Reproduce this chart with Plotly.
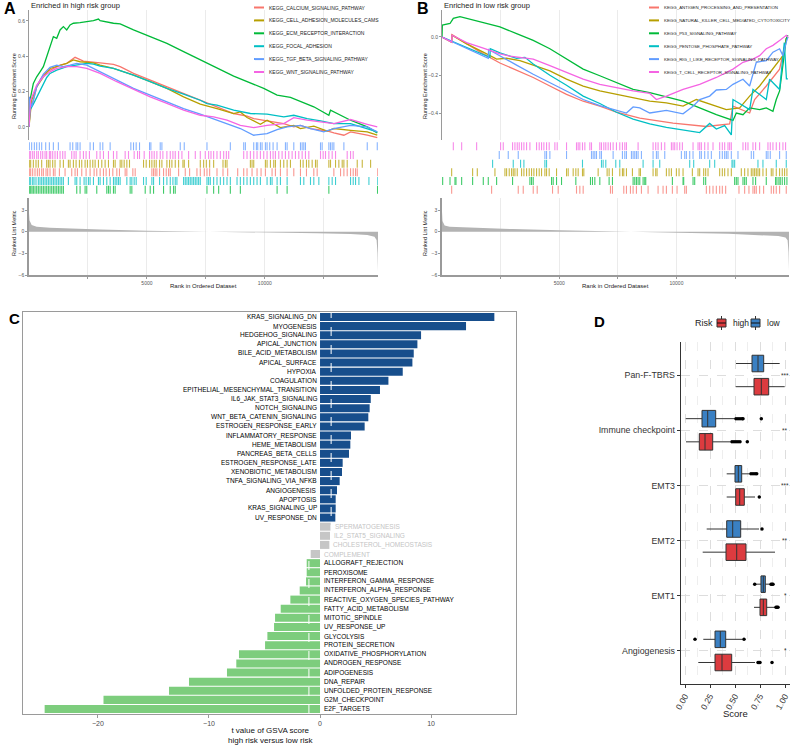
import plotly.graph_objects as go

W, H = 792, 745
FONT = "Arial, 'Liberation Sans', sans-serif"

# ============================ DATA ============================
N_GENES = 14800
metric_rank = [0, 20, 113, 326, 892, 1600, 3016, 5000, 7264, 8680, 10096, 12220, 13636, 14344, 14650, 14740, 14780, 14800]
A_metric = [2.6, 1.6, 0.92, 0.69, 0.55, 0.46, 0.32, 0.14, 0.05, -0.05, -0.14, -0.23, -0.32, -0.46, -0.69, -1.15, -3.0, -5.5]
B_metric = [2.8, 1.5, 0.85, 0.70, 0.60, 0.50, 0.36, 0.20, 0.08, -0.05, -0.16, -0.30, -0.45, -0.60, -0.80, -1.20, -2.8, -5.3]

# ---- Panel A: enriched in high risk group ----
A_title = "Enriched in high risk group"
A_sets = ["KEGG_CALCIUM_SIGNALING_PATHWAY", "KEGG_CELL_ADHESION_MOLECULES_CAMS",
          "KEGG_ECM_RECEPTOR_INTERACTION", "KEGG_FOCAL_ADHESION",
          "KEGG_TGF_BETA_SIGNALING_PATHWAY", "KEGG_WNT_SIGNALING_PATHWAY"]
A_calcium_curve = [(0, 0), (42, 0.095), (184, 0.151), (326, 0.227), (467, 0.265), (609, 0.293), (750, 0.312), (1034, 0.331), (1317, 0.350), (1600, 0.360), (1812, 0.379), (1954, 0.394), (2308, 0.373), (2733, 0.369), (3016, 0.363), (3582, 0.354), (3866, 0.341), (4432, 0.303), (5140, 0.265), (5848, 0.227), (6556, 0.189), (7264, 0.151), (7972, 0.114), (8680, 0.076), (9246, 0.061), (9530, 0.047), (10096, 0.034), (10804, 0.019), (11229, 0.0), (11512, 0.009), (11937, -0.009), (12645, -0.023), (12928, -0.034), (13353, -0.047), (13636, -0.028), (14061, -0.038), (14344, -0.047), (14769, -0.061)]
A_cams_curve = [(0, 0), (113, 0.151), (326, 0.227), (609, 0.284), (892, 0.331), (1175, 0.344), (1600, 0.360), (1883, 0.379), (2166, 0.369), (2733, 0.363), (3016, 0.350), (3582, 0.331), (4432, 0.293), (5140, 0.256), (5848, 0.218), (6556, 0.170), (7264, 0.129), (7972, 0.104), (8680, 0.076), (8963, 0.085), (9246, 0.053), (9813, 0.015), (10096, 0.038), (10662, -0.004), (11229, 0.009), (11512, -0.009), (12078, 0.004), (12645, -0.023), (12928, -0.009), (13636, -0.019), (14344, -0.028), (14769, -0.047)]
A_ecm_curve = [(0, 0), (42, 0.151), (184, 0.246), (326, 0.284), (467, 0.312), (609, 0.341), (750, 0.397), (892, 0.454), (1034, 0.511), (1175, 0.502), (1317, 0.549), (1458, 0.568), (1600, 0.549), (1742, 0.577), (1883, 0.587), (2166, 0.591), (2450, 0.596), (2733, 0.602), (2945, 0.611), (3016, 0.602), (3582, 0.587), (3866, 0.583), (4432, 0.549), (5140, 0.511), (5848, 0.473), (6556, 0.426), (7547, 0.360), (8680, 0.288), (9954, 0.218), (10521, 0.180), (11087, 0.167), (12078, 0.114), (12716, 0.066), (12786, 0.095), (13636, 0.038), (14344, 0.0), (14769, -0.034)]
A_focal_curve = [(0, 0), (42, 0.095), (184, 0.129), (326, 0.167), (467, 0.199), (609, 0.237), (750, 0.280), (892, 0.303), (1175, 0.322), (1600, 0.341), (2025, 0.350), (2450, 0.360), (2733, 0.356), (3016, 0.344), (3582, 0.331), (4432, 0.293), (5140, 0.256), (5848, 0.218), (6556, 0.186), (7264, 0.151), (7547, 0.132), (7972, 0.123), (8680, 0.095), (9388, 0.076), (10096, 0.072), (10804, 0.057), (11229, 0.066), (11795, 0.047), (12362, 0.034), (12928, 0.019), (13636, 0.019), (14344, -0.009), (14769, -0.028)]
A_tgf_curve = [(0, 0), (14, 0.170), (113, 0.114), (326, 0.227), (609, 0.299), (892, 0.337), (1175, 0.350), (1458, 0.341), (1742, 0.350), (2025, 0.360), (2450, 0.350), (3016, 0.312), (3724, 0.265), (4432, 0.218), (5140, 0.180), (5848, 0.142), (6556, 0.104), (7264, 0.072), (7972, 0.038), (8680, 0.004), (8963, -0.009), (9530, -0.047), (10096, -0.038), (10521, -0.015), (10946, 0.0), (11512, 0.009), (11937, -0.009), (12503, -0.028), (12928, -0.009), (13636, 0.009), (14344, 0.0), (14769, -0.028)]
A_wnt_curve = [(0, 0), (71, 0.151), (326, 0.237), (609, 0.284), (892, 0.312), (1175, 0.331), (1600, 0.341), (2025, 0.341), (2450, 0.331), (3016, 0.303), (3724, 0.256), (4432, 0.212), (5140, 0.170), (5848, 0.133), (6556, 0.095), (7264, 0.066), (7830, 0.057), (8397, 0.038), (8963, 0.009), (9530, -0.004), (10096, 0.009), (10804, 0.019), (11229, 0.053), (11795, 0.038), (12362, 0.028), (12928, 0.019), (13636, 0.042), (14061, 0.028), (14344, 0.015), (14769, 0.0)]

A_calcium_hits = [14, 71, 156, 255, 354, 439, 538, 609, 722, 793, 892, 1034, 1104, 1289, 1529, 1812, 1954, 2053, 2237, 2421, 2591, 2761, 2874, 3016, 3158, 3271, 3413, 3554, 3724, 3837, 4078, 4149, 4404, 4503, 5211, 5282, 5352, 5423, 5537, 5706, 5820, 5919, 5990, 6344, 6627, 6811, 7122, 7264, 7434, 7547, 7661, 7972, 8227, 8425, 8850, 9105, 9246, 9459, 9671, 9841, 10025, 10308, 10450, 10662, 10946, 11229, 11512, 11767, 12078, 12220, 12928, 13211, 13353, 13494, 13636, 13749, 13848, 13919, 14790]
A_cams_hits = [14, 71, 184, 297, 396, 538, 750, 821, 892, 1005, 1104, 1317, 1458, 1671, 1742, 1883, 1997, 2138, 2237, 2379, 2478, 2591, 2705, 2804, 2945, 3087, 3228, 3370, 3582, 3653, 3866, 3936, 4036, 4149, 4262, 4857, 4970, 5112, 5211, 5310, 5395, 5537, 5636, 5848, 5961, 6060, 6202, 6344, 6528, 6584, 6768, 7264, 7406, 7519, 7661, 7830, 8227, 8326, 8397, 9388, 9459, 9530, 10025, 10096, 10238, 10379, 10450, 10662, 10804, 10946, 11087, 11512, 11625, 11767, 11866, 12008, 12149, 12220, 12716, 12786, 12999, 13140, 13282, 13353, 13494, 13919, 14132, 14486]
A_ecm_hits = [14, 71, 127, 184, 255, 326, 396, 467, 538, 609, 680, 750, 821, 892, 963, 1034, 1104, 1175, 1246, 1317, 1388, 1458, 2025, 2166, 2379, 2450, 2874, 3299, 3370, 3441, 3582, 3653, 4290, 4361, 4928, 5140, 5282, 5706, 5990, 6131, 6202, 7547, 7830, 8043, 8538, 8963, 10521, 10946, 12716, 14780]
A_focal_hits = [14, 71, 156, 212, 297, 396, 467, 538, 609, 680, 750, 821, 892, 963, 1034, 1104, 1175, 1246, 1317, 1388, 1458, 1671, 1954, 2025, 2166, 2336, 2421, 2520, 2591, 2733, 2945, 3016, 3158, 3299, 3441, 3582, 3653, 3724, 3795, 3866, 4149, 4290, 4361, 4460, 4545, 4857, 4970, 5211, 5282, 5537, 5706, 5848, 5990, 6103, 6202, 6273, 6556, 6627, 6698, 6768, 6839, 6910, 6981, 7052, 7122, 7193, 7264, 7547, 7618, 7689, 7830, 7972, 8114, 8255, 8397, 8538, 8822, 8963, 9105, 9246, 9388, 9530, 9671, 9813, 10096, 10238, 10308, 10521, 10662, 10946, 11512, 11654, 11937, 12078, 12291, 12716, 12857, 12999, 13636, 13749, 13848, 13990, 14415, 14790]
A_tgf_hits = [14, 113, 227, 326, 439, 538, 708, 864, 1034, 1246, 1742, 1855, 1997, 2067, 2166, 2591, 2733, 3016, 3129, 3441, 4319, 4432, 4545, 4687, 5112, 5168, 5565, 5636, 6414, 6584, 7547, 8538, 9105, 9176, 9530, 9643, 9700, 9813, 9884, 10025, 10096, 10209, 10351, 10521, 10875, 10946, 11229, 11512, 11583, 11654, 11724, 12362, 12432, 12716, 12786, 12857, 12928, 13353, 14344, 14769]
A_wnt_hits = [14, 71, 156, 227, 326, 396, 496, 581, 680, 750, 864, 920, 1005, 1104, 1204, 1317, 1430, 1529, 1812, 1912, 1997, 2166, 2308, 2421, 2563, 2874, 3016, 3158, 3370, 3582, 3724, 4078, 4220, 4460, 4602, 4687, 4885, 5112, 5211, 5310, 5423, 5565, 5678, 5848, 5990, 6103, 6202, 6344, 6485, 6768, 7052, 7264, 7476, 7618, 7717, 7830, 7972, 8114, 8255, 8369, 8468, 9105, 9246, 9388, 9530, 9671, 9813, 9954, 10096, 10238, 10351, 10450, 10592, 10733, 10875, 11016, 11158, 11300, 11441, 11583, 11724, 11866, 12362, 12475, 12574, 12716, 12857, 12999, 13494, 13636, 13749]

# ---- Panel B: enriched in low risk group ----
B_title = "Enriched in low risk group"
B_sets = ["KEGG_ANTIGEN_PROCESSING_AND_PRESENTATION", "KEGG_NATURAL_KILLER_CELL_MEDIATED_CYTOTOXICITY",
          "KEGG_P53_SIGNALING_PATHWAY", "KEGG_PENTOSE_PHOSPHATE_PATHWAY",
          "KEGG_RIG_I_LIKE_RECEPTOR_SIGNALING_PATHWAY", "KEGG_T_CELL_RECEPTOR_SIGNALING_PATHWAY"]
B_antigen_curve = [(0, 0), (412, -0.027), (426, 0.012), (1051, -0.036), (1761, -0.089), (2471, -0.137), (3181, -0.174), (3891, -0.213), (4601, -0.258), (5311, -0.302), (6021, -0.338), (6731, -0.364), (7441, -0.396), (8151, -0.418), (8435, -0.427), (9855, -0.453), (11275, -0.471), (12269, -0.457), (12411, -0.364), (13121, -0.400), (13334, -0.329), (13831, -0.258), (14399, -0.169), (14683, -0.009), (14754, 0.0)]
B_nk_curve = [(0, 0), (412, -0.027), (426, 0.009), (1051, -0.036), (1761, -0.080), (2329, -0.116), (2755, -0.112), (3323, -0.124), (3891, -0.148), (4601, -0.178), (5311, -0.222), (6021, -0.258), (6731, -0.284), (7441, -0.302), (8151, -0.320), (8861, -0.338), (9571, -0.347), (10281, -0.364), (10849, -0.329), (11701, -0.364), (12127, -0.382), (12695, -0.373), (13121, -0.311), (13547, -0.258), (14115, -0.169), (14541, -0.098), (14683, -0.009), (14754, 0.0)]
B_p53_curve = [(0, 0), (14, 0.062), (341, 0.071), (483, 0.098), (767, 0.107), (1051, 0.098), (1477, 0.084), (1903, 0.071), (2471, 0.053), (3181, 0.018), (3891, -0.018), (4601, -0.062), (5311, -0.116), (6021, -0.169), (6731, -0.204), (7441, -0.240), (8151, -0.276), (8861, -0.293), (9571, -0.315), (10281, -0.338), (10991, -0.373), (11701, -0.409), (12411, -0.439), (12553, -0.400), (12837, -0.409), (13121, -0.373), (13547, -0.382), (13831, -0.373), (14115, -0.391), (14257, -0.329), (14399, -0.284), (14541, -0.133), (14683, -0.009), (14754, 0.009)]
B_pentose_curve = [(0, 0), (2045, -0.107), (2059, -0.062), (2471, -0.084), (3181, -0.112), (3536, -0.107), (3891, -0.142), (4601, -0.201), (5311, -0.254), (6021, -0.311), (6731, -0.350), (7441, -0.396), (8151, -0.432), (8861, -0.457), (9571, -0.475), (10281, -0.489), (10991, -0.503), (11417, -0.455), (11701, -0.484), (12056, -0.466), (12340, -0.515), (12411, -0.329), (13121, -0.382), (13263, -0.276), (13831, -0.329), (13973, -0.222), (14399, -0.276), (14600, -0.03), (14690, -0.22), (14754, -0.22)]
B_rig_curve = [(0, 0), (1974, -0.112), (1988, -0.066), (2471, -0.101), (3181, -0.148), (3891, -0.196), (4601, -0.240), (5311, -0.284), (6021, -0.329), (6731, -0.361), (7441, -0.386), (7867, -0.400), (8151, -0.368), (8435, -0.373), (8861, -0.400), (9571, -0.386), (10281, -0.404), (10707, -0.364), (10991, -0.329), (11417, -0.311), (11701, -0.279), (12127, -0.276), (12411, -0.249), (12837, -0.222), (13121, -0.258), (13405, -0.133), (13831, -0.124), (14115, -0.080), (14399, -0.062), (14541, -0.098), (14683, -0.027), (14754, 0.0)]
B_tcell_curve = [(0, 0), (412, -0.027), (426, 0.009), (1051, -0.030), (1761, -0.059), (2471, -0.089), (2897, -0.101), (3323, -0.107), (3891, -0.116), (4601, -0.151), (5311, -0.187), (6021, -0.222), (6731, -0.249), (7441, -0.267), (8151, -0.284), (8861, -0.297), (9145, -0.329), (9571, -0.311), (10281, -0.276), (10991, -0.249), (11701, -0.213), (12411, -0.169), (12837, -0.133), (13263, -0.116), (13547, -0.098), (13831, -0.062), (14115, -0.044), (14399, -0.018), (14683, 0.009), (14754, 0.0)]

B_antigen_hits = [412, 2116, 3252, 3465, 3891, 4061, 4714, 4956, 5737, 5879, 6021, 7185, 7270, 7753, 7867, 8037, 8151, 8293, 8506, 8790, 9216, 9429, 9571, 9826, 10025, 10352, 10423, 11275, 11417, 11559, 11701, 11843, 11956, 12098, 12666, 12908, 13092, 13263, 13334, 13405, 13547, 13717, 14044, 14143, 14257, 14399, 14683]
B_nk_hits = [412, 1306, 1505, 2258, 2684, 2755, 2868, 2968, 3039, 3110, 3209, 3394, 3493, 3607, 3720, 3820, 3919, 4033, 4146, 4246, 4388, 4459, 4572, 4885, 5311, 5382, 5595, 5708, 5808, 5992, 6049, 6660, 7043, 7128, 7270, 7583, 7696, 7753, 7867, 8122, 8406, 8463, 9003, 9116, 9173, 9571, 9684, 9784, 9997, 10110, 10281, 10678, 10920, 10991, 11161, 11246, 11346, 11843, 11956, 12056, 12198, 12340, 12766, 12908, 13050, 13192, 13263, 13334, 13405, 13476, 13547, 13689, 13831, 14044, 14115, 14257, 14399, 14512, 14612, 14711]
B_p53_hits = [28, 341, 554, 596, 838, 1306, 1761, 1974, 2329, 3010, 3749, 3820, 3891, 4672, 4743, 4885, 5098, 5708, 6333, 6418, 6518, 6731, 7128, 7270, 8151, 8222, 8293, 8364, 8435, 8577, 8648, 8690, 9826, 10281, 10309, 10707, 10778, 11161, 11246, 12482, 12553, 12624, 12837, 12908, 12979, 13263, 13376, 13831, 14228, 14285, 14370, 14427, 14512, 14612, 14711]
B_pentose_hits = [2158, 3039, 3351, 3493, 4388, 4459, 5992, 6802, 6873, 6986, 7412, 7583, 8577, 9003, 9287, 10565, 10735, 11417, 11630, 12368, 12411, 12482, 13476, 13689, 14257, 14683]
B_rig_hits = [2442, 2826, 3252, 4388, 4459, 4601, 5311, 6376, 6447, 6518, 6589, 6731, 6802, 7299, 7696, 7796, 7867, 8080, 8151, 8222, 8293, 8364, 8506, 9003, 9145, 9216, 9500, 10210, 10352, 10423, 10565, 10707, 10991, 11062, 11204, 11346, 11488, 11843, 11956, 12056, 12127, 12198, 12340, 12624, 13192, 13291, 13831, 13902, 14001, 14399, 14683]
B_tcell_hits = [483, 838, 1477, 2499, 2613, 3010, 3110, 3209, 3294, 3394, 3493, 3607, 3749, 4033, 4146, 4246, 4345, 4459, 4572, 4814, 4913, 5311, 5737, 5808, 5879, 5992, 6092, 6305, 6376, 6731, 6802, 6901, 6986, 7086, 7185, 7299, 7441, 7583, 7696, 7796, 7867, 8364, 9003, 9116, 9216, 9358, 9500, 9784, 9855, 9926, 10025, 10139, 10252, 10707, 10920, 10991, 11062, 11204, 11346, 11559, 11843, 11956, 12056, 12198, 12269, 12340, 12837, 12950, 13050, 13263, 13376, 13547, 13902, 14001, 14115, 14257, 14399, 14541, 14654]

# ---- Panel C: t value of GSVA score ----
C_terms = ["KRAS_SIGNALING_DN", "MYOGENESIS", "HEDGEHOG_SIGNALING", "APICAL_JUNCTION", "BILE_ACID_METABOLISM",
           "APICAL_SURFACE", "HYPOXIA", "COAGULATION", "EPITHELIAL_MESENCHYMAL_TRANSITION", "IL6_JAK_STAT3_SIGNALING",
           "NOTCH_SIGNALING", "WNT_BETA_CATENIN_SIGNALING", "ESTROGEN_RESPONSE_EARLY", "INFLAMMATORY_RESPONSE",
           "HEME_METABOLISM", "PANCREAS_BETA_CELLS", "ESTROGEN_RESPONSE_LATE", "XENOBIOTIC_METABOLISM",
           "TNFA_SIGNALING_VIA_NFKB", "ANGIOGENESIS", "APOPTOSIS", "KRAS_SIGNALING_UP", "UV_RESPONSE_DN",
           "SPERMATOGENESIS", "IL2_STAT5_SIGNALING", "CHOLESTEROL_HOMEOSTASIS", "COMPLEMENT",
           "ALLOGRAFT_REJECTION", "PEROXISOME", "INTERFERON_GAMMA_RESPONSE", "INTERFERON_ALPHA_RESPONSE",
           "REACTIVE_OXYGEN_SPECIES_PATHWAY", "FATTY_ACID_METABOLISM", "MITOTIC_SPINDLE", "UV_RESPONSE_UP",
           "GLYCOLYSIS", "PROTEIN_SECRETION", "OXIDATIVE_PHOSPHORYLATION", "ANDROGEN_RESPONSE", "ADIPOGENESIS",
           "DNA_REPAIR", "UNFOLDED_PROTEIN_RESPONSE", "G2M_CHECKPOINT", "E2F_TARGETS"]
C_tvalues = [15.7, 13.15, 9.1, 8.77, 8.44, 8.32, 7.45, 6.16, 5.4, 4.57, 4.47, 4.35, 4.02, 2.79, 2.73, 2.61,
             2.04, 1.98, 1.77, 1.53, 1.41, 1.41, 1.38, 0.96, 0.90, 0.84, -0.84, -1.2, -1.2, -1.26, -1.83,
             -2.67, -3.54, -4.05, -4.14, -4.74, -4.95, -7.3, -7.54, -8.38, -11.8, -13.6, -19.5, -24.8]
C_threshold = 1.0
C_xticks = [-20, -10, 0, 10]

# ---- Panel D: score boxplots ----
D_categories = ["Pan-F-TBRS", "Immune checkpoint", "EMT3", "EMT2", "EMT1", "Angiogenesis"]
D_signif = ["***", "**", "***", "**", "*", "*"]
D_groups = ["high", "low"]
D_low_lf = [0.51, 0.007, 0.417, 0.217, 0.71, 0.183]
D_low_q1 = [0.67, 0.17, 0.50, 0.417, 0.76, 0.30]
D_low_med = [0.73, 0.227, 0.533, 0.477, 0.783, 0.353]
D_low_q3 = [0.787, 0.307, 0.567, 0.557, 0.803, 0.407]
D_low_uf = [0.947, 0.50, 0.65, 0.74, 0.845, 0.57]
D_low_outliers = [[], [0.51, 0.53, 0.55, 0.57, 0.58, 0.763], [0.66, 0.68, 0.70, 0.717], [0.77], [0.697, 0.86, 0.87, 0.88], [0.10, 0.59]]
D_high_lf = [0.507, 0.01, 0.417, 0.177, 0.69, 0.133]
D_high_q1 = [0.69, 0.143, 0.507, 0.41, 0.75, 0.30]
D_high_med = [0.763, 0.20, 0.547, 0.517, 0.783, 0.37]
D_high_q3 = [0.837, 0.277, 0.593, 0.61, 0.817, 0.467]
D_high_uf = [0.997, 0.457, 0.70, 0.90, 0.90, 0.70]
D_high_outliers = [[], [0.47, 0.49, 0.51, 0.53, 0.55, 0.623], [0.743], [], [0.91, 0.92, 0.93], [0.73, 0.74, 0.75, 0.87]]
D_xticks = [0.0, 0.25, 0.5, 0.75, 1.0]

# ========================== STYLE ===========================
HUE = ["#F8766D", "#B79F00", "#00BA38", "#00BFC4", "#619CFF", "#F564E3"]
C_UP, C_NS, C_DOWN = "#174E8C", "#C6C6C6", "#7DCD7D"
D_RED, D_BLUE = "#DC3B3F", "#3A80C3"
AX_GRAY = "#9a9a9a"


def xd(l, r):
    return [l / W, r / W]


def yd(t, b):
    return [1 - b / H, 1 - t / H]


def px(x):
    return x / W


def py(y):
    return 1 - y / H


def sfx(i):
    return "" if i == 1 else str(i)


fig = go.Figure()
layout = {}
annotations = []
shapes = []


def unzip(curve):
    return [p[0] for p in curve], [p[1] for p in curve]


def gsea_panel(i0, xl, xr, sets, curves, hits, rug_order, run_range, run_ticks, run_text,
               metric, title, letter, ytitle_x, legend_x, legend_font):
    i_run, i_rug, i_met = i0, i0 + 1, i0 + 2
    grid_vals = [2500, 5000, 7500, 10000, 12500]
    for j, curve in enumerate(curves):
        xs, ys = unzip(curve)
        fig.add_trace(go.Scatter(x=xs, y=ys, mode="lines", line=dict(color=HUE[j], width=1.3),
                                 xaxis="x" + sfx(i_run), yaxis="y" + sfx(i_run),
                                 showlegend=False, hoverinfo="skip"))
    for k, j in enumerate(rug_order):
        xs, ys = [], []
        for h in hits[j]:
            xs += [h, h, None]
            ys += [5 - k + 0.04, 6 - k - 0.04, None]
        fig.add_trace(go.Scatter(x=xs, y=ys, mode="lines", line=dict(color=HUE[j], width=1.1),
                                 opacity=0.75, xaxis="x" + sfx(i_rug), yaxis="y" + sfx(i_rug),
                                 showlegend=False, hoverinfo="skip"))
    fig.add_trace(go.Scatter(x=metric_rank, y=metric, mode="lines", fill="tozeroy",
                             line=dict(width=0, color="#b3b3b3"), fillcolor="#b3b3b3",
                             xaxis="x" + sfx(i_met), yaxis="y" + sfx(i_met),
                             showlegend=False, hoverinfo="skip"))
    tickfont = dict(size=5, color="#555555", family=FONT)
    layout["xaxis" + sfx(i_run)] = dict(domain=xd(xl, xr), range=[0, N_GENES], anchor="y" + sfx(i_run),
                                        tickvals=grid_vals, showticklabels=False, ticks="",
                                        showgrid=True, gridcolor="#ebebeb", gridwidth=0.8,
                                        zeroline=False, showline=False, automargin=False)
    layout["yaxis" + sfx(i_run)] = dict(domain=yd(10, 140), range=run_range, anchor="x" + sfx(i_run),
                                        tickvals=run_ticks, ticktext=run_text, tickfont=tickfont,
                                        ticks="outside", ticklen=2, tickcolor=AX_GRAY,
                                        showline=True, linecolor=AX_GRAY, linewidth=1,
                                        showgrid=False, zeroline=False, automargin=False)
    layout["xaxis" + sfx(i_rug)] = dict(domain=xd(xl, xr), range=[0, N_GENES], anchor="y" + sfx(i_rug),
                                        visible=False)
    layout["yaxis" + sfx(i_rug)] = dict(domain=yd(142, 194), range=[0, 6], anchor="x" + sfx(i_rug),
                                        visible=False)
    layout["xaxis" + sfx(i_met)] = dict(domain=xd(xl, xr), range=[0, N_GENES], anchor="y" + sfx(i_met),
                                        tickvals=grid_vals, ticktext=["", "5000", "", "10000", ""],
                                        tickfont=tickfont, ticks="outside", ticklen=2, tickcolor=AX_GRAY,
                                        showgrid=True, gridcolor="#ebebeb", gridwidth=0.8,
                                        showline=True, linecolor=AX_GRAY, linewidth=1.5, zeroline=False,
                                        automargin=False)
    layout["yaxis" + sfx(i_met)] = dict(domain=yd(198, 275), range=[-6, 4.67], anchor="x" + sfx(i_met),
                                        tickvals=[-6, -3, 0, 3], ticktext=["\u22126", "\u22123", "0", "3"],
                                        tickfont=tickfont, ticks="outside", ticklen=2, tickcolor=AX_GRAY,
                                        showline=True, linecolor=AX_GRAY, linewidth=1.5,
                                        showgrid=False, zeroline=False, automargin=False)
    annotations.append(dict(text="<b>%s</b>" % letter, x=px(xl - 27), y=py(8), xref="paper", yref="paper",
                            xanchor="left", yanchor="middle", showarrow=False,
                            font=dict(size=16, color="black", family=FONT)))
    annotations.append(dict(text=title, x=px(xl), y=py(6), xref="paper", yref="paper",
                            xanchor="left", yanchor="middle", showarrow=False,
                            font=dict(size=7.5, color="#222222", family=FONT)))
    annotations.append(dict(text="Running Enrichment Score", x=px(ytitle_x), y=py(86), xref="paper",
                            yref="paper", textangle=-90, showarrow=False, xanchor="center", yanchor="middle",
                            font=dict(size=5.5, color="#222222", family=FONT)))
    annotations.append(dict(text="Ranked List Metric", x=px(ytitle_x), y=py(233), xref="paper",
                            yref="paper", textangle=-90, showarrow=False, xanchor="center", yanchor="middle",
                            font=dict(size=5.5, color="#222222", family=FONT)))
    annotations.append(dict(text="Rank in Ordered Dataset", x=px((xl + xr) / 2), y=py(286), xref="paper",
                            yref="paper", showarrow=False, xanchor="center", yanchor="middle",
                            font=dict(size=6, color="#222222", family=FONT)))
    for j, name in enumerate(sets):
        yy = py(7.5 + 12.9 * j)
        shapes.append(dict(type="line", xref="paper", yref="paper", x0=px(legend_x), x1=px(legend_x + 10),
                           y0=yy, y1=yy, line=dict(color=HUE[j], width=2)))
        annotations.append(dict(text=name, x=px(legend_x + 13), y=yy, xref="paper", yref="paper",
                                xanchor="left", yanchor="middle", showarrow=False,
                                font=dict(size=legend_font, color="#222222", family=FONT)))


gsea_panel(1, 29, 378, A_sets,
           [A_calcium_curve, A_cams_curve, A_ecm_curve, A_focal_curve, A_tgf_curve, A_wnt_curve],
           [A_calcium_hits, A_cams_hits, A_ecm_hits, A_focal_hits, A_tgf_hits, A_wnt_hits],
           [4, 5, 1, 0, 3, 2], [-0.074, 0.662], [0, 0.2, 0.4, 0.6], ["0.0", "0.2", "0.4", "0.6"],
           A_metric, A_title, "A", 14, 254, 5.0)
gsea_panel(4, 442, 789, B_sets,
           [B_antigen_curve, B_nk_curve, B_p53_curve, B_pentose_curve, B_rig_curve, B_tcell_curve],
           [B_antigen_hits, B_nk_hits, B_p53_hits, B_pentose_hits, B_rig_hits, B_tcell_hits],
           [5, 4, 3, 1, 2, 0], [-0.542, 0.142], [-0.4, -0.2, 0.0], ["\u22120.4", "\u22120.2", "0.0"],
           B_metric, B_title, "B", 425, 649, 4.4)

# ---------------- Panel C ----------------
c_colors = []
for v in C_tvalues:
    if v >= C_threshold:
        c_colors.append(C_UP)
    elif v <= -C_threshold:
        c_colors.append(C_DOWN)
    else:
        c_colors.append(C_NS)
fig.add_trace(go.Bar(x=C_tvalues, y=C_terms, orientation="h", marker=dict(color=c_colors, line=dict(width=0)),
                     xaxis="x7", yaxis="y7", showlegend=False, hoverinfo="skip"))
layout["xaxis7"] = dict(domain=xd(23, 516), range=[-26.75, 17.65], anchor="y7", tickvals=C_xticks,
                        ticktext=["\u221220", "\u221210", "0", "10"],
                        tickfont=dict(size=7, color="#4d4d4d", family=FONT), ticks="outside", ticklen=3,
                        tickcolor=AX_GRAY, showline=True, mirror=True, linecolor=AX_GRAY, linewidth=1,
                        showgrid=False, zeroline=False, automargin=False)
layout["yaxis7"] = dict(domain=yd(312, 714), range=[len(C_terms) - 0.45, -0.55], anchor="x7",
                        categoryorder="array", categoryarray=C_terms, showticklabels=False, ticks="",
                        showline=True, mirror=True, linecolor=AX_GRAY, linewidth=1, showgrid=False,
                        zeroline=False, automargin=False)
for thr in (C_threshold, -C_threshold):
    shapes.append(dict(type="line", xref="x7", yref="y7 domain", x0=thr, x1=thr, y0=0, y1=1,
                       line=dict(color="white", width=1, dash="dash"), layer="above"))
for term, v, col in zip(C_terms, C_tvalues, c_colors):
    if col == C_UP:
        ann = dict(x=0, xanchor="right", xshift=-1, font_color="black")
    elif col == C_DOWN:
        ann = dict(x=0, xanchor="left", xshift=2, font_color="black")
    else:
        ann = dict(x=max(v, 0), xanchor="left", xshift=2, font_color="#c4c4c4")
    annotations.append(dict(text=term, x=ann["x"], y=term, xref="x7", yref="y7", xanchor=ann["xanchor"],
                            xshift=ann["xshift"], yanchor="middle", showarrow=False,
                            font=dict(size=6.5, color=ann["font_color"], family=FONT)))
annotations.append(dict(text="t value of GSVA score<br>high risk versus low risk", x=px(270), y=py(735),
                        xref="paper", yref="paper", xanchor="center", yanchor="middle", showarrow=False,
                        font=dict(size=8, color="#111111", family=FONT)))
annotations.append(dict(text="<b>C</b>", x=px(7), y=py(318), xref="paper", yref="paper",
                        xanchor="left", yanchor="middle", showarrow=False,
                        font=dict(size=15, color="black", family=FONT)))

# ---------------- Panel D ----------------
D_pos = [len(D_categories) - i for i in range(len(D_categories))]
group_stats = {
    "high": (D_high_q1, D_high_med, D_high_q3, D_high_lf, D_high_uf, D_high_outliers, D_RED, -0.21),
    "low": (D_low_q1, D_low_med, D_low_q3, D_low_lf, D_low_uf, D_low_outliers, D_BLUE, 0.21),
}
for g in D_groups:
    q1, med, q3, lf, uf, outs, col, off = group_stats[g]
    fig.add_trace(go.Box(name=g, orientation="h", y=[p + off for p in D_pos], q1=q1, median=med, q3=q3,
                         lowerfence=lf, upperfence=uf, width=0.3, fillcolor=col,
                         line=dict(color="#333333", width=1), whiskerwidth=0, boxpoints=False,
                         xaxis="x8", yaxis="y8", hoverinfo="skip", showlegend=False))
    ox, oy = [], []
    for p, vals in zip(D_pos, outs):
        for v in vals:
            ox.append(v)
            oy.append(p + off)
    fig.add_trace(go.Scatter(x=ox, y=oy, mode="markers", marker=dict(color="black", size=3.5),
                             xaxis="x8", yaxis="y8", showlegend=False, hoverinfo="skip"))

layout["xaxis8"] = dict(domain=xd(680.7, 790), range=[-0.043, 1.05], anchor="y8", tickvals=D_xticks,
                        ticktext=["0.00", "0.25", "0.50", "0.75", "1.00"], tickangle=-60,
                        tickfont=dict(size=8.5, color="#333333", family=FONT), ticks="outside", ticklen=3,
                        tickcolor="#333333", showline=True, linecolor="#333333", linewidth=1,
                        showgrid=True, gridcolor="#dddddd", gridwidth=0.8, griddash="dash",
                        minor=dict(dtick=0.125, tick0=0, showgrid=True, gridcolor="#eeeeee", griddash="dash",
                                   ticks=""),
                        zeroline=False, automargin=False)
layout["yaxis8"] = dict(domain=yd(342, 684), range=[0.4, len(D_categories) + 0.6], anchor="x8",
                        tickvals=D_pos, ticktext=D_categories,
                        tickfont=dict(size=8.8, color="#333333", family=FONT), ticks="outside", ticklen=3,
                        tickcolor="#333333", showline=True, linecolor="#333333", linewidth=1,
                        showgrid=True, gridcolor="#dddddd", gridwidth=0.8, griddash="dash", zeroline=False,
                        automargin=False)
annotations.append(dict(text="Score", x=px(735), y=py(713), xref="paper", yref="paper", xanchor="center",
                        yanchor="middle", showarrow=False, font=dict(size=9.5, color="#222222", family=FONT)))
for p, s in zip(D_pos, D_signif):
    annotations.append(dict(text=s, x=1.0, y=p, xref="x8", yref="y8", xanchor="center", yanchor="middle",
                            showarrow=False, font=dict(size=6.5, color="#333333", family=FONT)))
annotations.append(dict(text="<b>D</b>", x=px(592), y=py(321), xref="paper", yref="paper",
                        xanchor="left", yanchor="middle", showarrow=False,
                        font=dict(size=15, color="black", family=FONT)))
annotations.append(dict(text="Risk", x=px(693), y=py(323), xref="paper", yref="paper", xanchor="left",
                        yanchor="middle", showarrow=False, font=dict(size=9, color="#222222", family=FONT)))
for g, ix in zip(D_groups, [717, 751]):
    col = group_stats[g][6]
    shapes.append(dict(type="line", xref="paper", yref="paper", x0=px(ix + 4.5), x1=px(ix + 4.5),
                       y0=py(316), y1=py(330), line=dict(color="#333333", width=1)))
    shapes.append(dict(type="rect", xref="paper", yref="paper", x0=px(ix), x1=px(ix + 9),
                       y0=py(319), y1=py(327), fillcolor=col, line=dict(color="#333333", width=1)))
    shapes.append(dict(type="line", xref="paper", yref="paper", x0=px(ix), x1=px(ix + 9),
                       y0=py(323), y1=py(323), line=dict(color="#111111", width=1)))
    annotations.append(dict(text=g, x=px(ix + 14), y=py(323), xref="paper", yref="paper", xanchor="left",
                            yanchor="middle", showarrow=False, font=dict(size=8.5, color="#222222", family=FONT)))

fig.update_layout(
    width=W, height=H, margin=dict(l=0, r=0, t=0, b=0, autoexpand=False),
    paper_bgcolor="white", plot_bgcolor="white", font=dict(family=FONT),
    bargap=0.12, showlegend=False,
    annotations=annotations, shapes=shapes, **layout)

fig.write_html("out.html", config={"displayModeBar": False},
               post_script="document.body.style.margin='0px';document.body.style.overflow='hidden';")
